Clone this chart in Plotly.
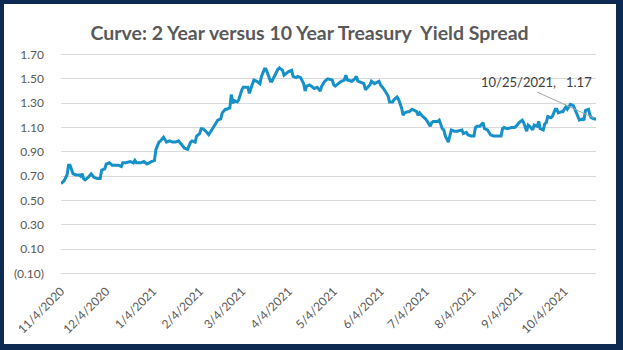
import pandas as pd
import plotly.graph_objects as go

# 2-year vs 10-year Treasury yield spread (percentage points)
dates = [
    "2020-11-04", "2020-11-06", "2020-11-08", "2020-11-09", "2020-11-10", "2020-11-12",
    "2020-11-14", "2020-11-16", "2020-11-17", "2020-11-18", "2020-11-19", "2020-11-20",
    "2020-11-22", "2020-11-24", "2020-11-26", "2020-11-28", "2020-11-30",
    "2020-12-01", "2020-12-03", "2020-12-04", "2020-12-06", "2020-12-08", "2020-12-09",
    "2020-12-12", "2020-12-14", "2020-12-15", "2020-12-17", "2020-12-19", "2020-12-20",
    "2020-12-22", "2020-12-23", "2020-12-24", "2020-12-27", "2020-12-29", "2020-12-31",
    "2021-01-03", "2021-01-05", "2021-01-06", "2021-01-08", "2021-01-09", "2021-01-11",
    "2021-01-13", "2021-01-15", "2021-01-17", "2021-01-19", "2021-01-21", "2021-01-23",
    "2021-01-25", "2021-01-27", "2021-01-29", "2021-01-30",
    "2021-02-01", "2021-02-02", "2021-02-04", "2021-02-05", "2021-02-06", "2021-02-08",
    "2021-02-10", "2021-02-12", "2021-02-14", "2021-02-16", "2021-02-18", "2021-02-19",
    "2021-02-21", "2021-02-22", "2021-02-24", "2021-02-25", "2021-02-26", "2021-02-27",
    "2021-03-01", "2021-03-02", "2021-03-04", "2021-03-05", "2021-03-08", "2021-03-09",
    "2021-03-10", "2021-03-12", "2021-03-14", "2021-03-16", "2021-03-17", "2021-03-19",
    "2021-03-20", "2021-03-21", "2021-03-23", "2021-03-24", "2021-03-26", "2021-03-28",
    "2021-03-29", "2021-03-31",
    "2021-04-01", "2021-04-03", "2021-04-04", "2021-04-06", "2021-04-07", "2021-04-09",
    "2021-04-10", "2021-04-12", "2021-04-14", "2021-04-15", "2021-04-16", "2021-04-18",
    "2021-04-20", "2021-04-21", "2021-04-23", "2021-04-25", "2021-04-26", "2021-04-28",
    "2021-04-30",
    "2021-05-03", "2021-05-04", "2021-05-05", "2021-05-07", "2021-05-09", "2021-05-11",
    "2021-05-12", "2021-05-13", "2021-05-15", "2021-05-16", "2021-05-18", "2021-05-19",
    "2021-05-20", "2021-05-23", "2021-05-24", "2021-05-25", "2021-05-27", "2021-05-28",
    "2021-05-29", "2021-05-31",
    "2021-06-03", "2021-06-04", "2021-06-06", "2021-06-07", "2021-06-09", "2021-06-10",
    "2021-06-12", "2021-06-13", "2021-06-15", "2021-06-16", "2021-06-18", "2021-06-19",
    "2021-06-20", "2021-06-22", "2021-06-23", "2021-06-25", "2021-06-27", "2021-06-28",
    "2021-06-29", "2021-06-30",
    "2021-07-02", "2021-07-04", "2021-07-05", "2021-07-07", "2021-07-08", "2021-07-09",
    "2021-07-12", "2021-07-13", "2021-07-15", "2021-07-16", "2021-07-17", "2021-07-19",
    "2021-07-20", "2021-07-21", "2021-07-23", "2021-07-25", "2021-07-28", "2021-07-29",
    "2021-07-31",
    "2021-08-01", "2021-08-03", "2021-08-05", "2021-08-06", "2021-08-07", "2021-08-09",
    "2021-08-11", "2021-08-12", "2021-08-14", "2021-08-16", "2021-08-18", "2021-08-21",
    "2021-08-23", "2021-08-24", "2021-08-25", "2021-08-27", "2021-08-30",
    "2021-09-01", "2021-09-02", "2021-09-04", "2021-09-06", "2021-09-07", "2021-09-09",
    "2021-09-10", "2021-09-11", "2021-09-13", "2021-09-14", "2021-09-16", "2021-09-17",
    "2021-09-18", "2021-09-20", "2021-09-21", "2021-09-22", "2021-09-23", "2021-09-25",
    "2021-09-26", "2021-09-28", "2021-09-29", "2021-09-30",
    "2021-10-02", "2021-10-03", "2021-10-05", "2021-10-06", "2021-10-07", "2021-10-08",
    "2021-10-10", "2021-10-11", "2021-10-13", "2021-10-14", "2021-10-16", "2021-10-17",
    "2021-10-18", "2021-10-20", "2021-10-21", "2021-10-22", "2021-10-24", "2021-10-25",
]

spread = [
    0.64, 0.66, 0.71, 0.79, 0.79, 0.72,
    0.71, 0.71, 0.70, 0.72, 0.68, 0.67,
    0.69, 0.72, 0.69, 0.68, 0.68,
    0.75, 0.76, 0.80, 0.81, 0.79, 0.79,
    0.79, 0.78, 0.81, 0.81, 0.82, 0.82,
    0.81, 0.83, 0.81, 0.81, 0.82, 0.80,
    0.82, 0.83, 0.92, 0.98, 0.99, 1.02,
    0.98, 0.99, 0.98, 0.98, 0.99, 0.96,
    0.93, 0.92, 0.98, 0.99,
    0.98, 1.03, 1.05, 1.09, 1.09, 1.07,
    1.04, 1.08, 1.12, 1.16, 1.17, 1.22,
    1.25, 1.25, 1.26, 1.37, 1.30, 1.32,
    1.31, 1.33, 1.41, 1.43, 1.43, 1.38,
    1.42, 1.49, 1.48, 1.46, 1.52, 1.58,
    1.58, 1.55, 1.48, 1.48, 1.53, 1.58,
    1.59, 1.57,
    1.53, 1.55, 1.56, 1.57, 1.52, 1.51,
    1.52, 1.51, 1.46, 1.40, 1.44, 1.45,
    1.43, 1.42, 1.43, 1.40, 1.44, 1.48,
    1.50,
    1.49, 1.45, 1.44, 1.46, 1.48, 1.49,
    1.53, 1.49, 1.48, 1.48, 1.50, 1.52,
    1.48, 1.46, 1.46, 1.41, 1.44, 1.45,
    1.48, 1.46,
    1.48, 1.45, 1.42, 1.40, 1.36, 1.31,
    1.31, 1.33, 1.35, 1.33, 1.26, 1.20,
    1.22, 1.23, 1.23, 1.25, 1.24, 1.23,
    1.20, 1.22,
    1.19, 1.17, 1.15, 1.11, 1.14, 1.15,
    1.15, 1.16, 1.09, 1.08, 1.03, 0.98,
    1.03, 1.08, 1.07, 1.07, 1.08, 1.05,
    1.06,
    1.04, 1.03, 1.03, 1.10, 1.11, 1.11,
    1.14, 1.09, 1.08, 1.04, 1.03, 1.03,
    1.03, 1.09, 1.10, 1.09, 1.10,
    1.10, 1.11, 1.14, 1.16, 1.14, 1.07,
    1.12, 1.11, 1.08, 1.12, 1.11, 1.15,
    1.09, 1.08, 1.13, 1.14, 1.19, 1.18,
    1.19, 1.25, 1.25, 1.22,
    1.23, 1.23, 1.27, 1.25, 1.27, 1.29,
    1.28, 1.25, 1.20, 1.16, 1.17, 1.16,
    1.24, 1.25, 1.20, 1.18, 1.17, 1.17,
]

x_tick_labels = [
    "11/4/2020", "12/4/2020", "1/4/2021", "2/4/2021", "3/4/2021", "4/4/2021",
    "5/4/2021", "6/4/2021", "7/4/2021", "8/4/2021", "9/4/2021", "10/4/2021",
]
y_ticks = [-0.10, 0.10, 0.30, 0.50, 0.70, 0.90, 1.10, 1.30, 1.50, 1.70]

title_text = "Curve: 2 Year versus 10 Year Treasury\u00a0 Yield Spread"

NAVY = "#0f2a52"
LINE_BLUE = "#1690c8"
GRAY_TEXT = "#595959"
GRID = "#d9d9d9"
FONT = "Lato, 'Open Sans', sans-serif"

x_dates = pd.to_datetime(dates)
tick_dates = pd.to_datetime(x_tick_labels, format="%m/%d/%Y")


def fmt_acct(v):
    # accounting style: negatives in parentheses
    return f"({abs(v):.2f})" if v < 0 else f"{v:.2f}"


fig = go.Figure()
fig.add_trace(go.Scatter(
    x=x_dates, y=spread, mode="lines",
    line=dict(color=LINE_BLUE, width=3),
    hoverinfo="x+y", showlegend=False,
))

# label for the latest observation
last_date, last_val = x_dates[-1], spread[-1]
label = f"{last_date.month}/{last_date.day}/{last_date.year},\u00a0\u00a0 {last_val:.2f}"
fig.add_annotation(
    x=last_date, y=last_val, text=label, showarrow=False,
    xshift=-60, yshift=37,
    font=dict(family=FONT, size=13, color="#404040"),
)
# leader line from the label down to the last point
fig.add_shape(
    type="line", xref="x", yref="y",
    xsizemode="pixel", ysizemode="pixel",
    xanchor=last_date, yanchor=last_val,
    x0=-2, y0=1, x1=-59, y1=27,
    line=dict(color="#a6a6a6", width=1),
)

# chart-area frame: navy border around a white panel
L, R, T, B = 61, 27, 53, 75
W, H = 623, 350
pw, ph = W - L - R, H - T - B
fig.add_shape(
    type="rect", xref="paper", yref="paper", layer="below",
    x0=(4 - L) / pw, x1=(616 - L) / pw,
    y0=-(344 - (H - B)) / ph, y1=1 + (T - 4) / ph,
    fillcolor="white", line=dict(width=0),
)

fig.update_layout(
    width=W, height=H,
    margin=dict(l=L, r=R, t=T, b=B),
    paper_bgcolor=NAVY, plot_bgcolor="rgba(0,0,0,0)",
    title=dict(
        text=title_text, x=0.497, xanchor="center",
        y=1 - 33 / H, yanchor="middle", yref="container",
        font=dict(family=FONT, size=19.5, color=GRAY_TEXT, weight="bold"),
    ),
    font=dict(family=FONT, color=GRAY_TEXT),
)
fig.update_xaxes(
    type="date", range=[x_dates[0], x_dates[-1]],
    tickvals=tick_dates, ticktext=x_tick_labels, tickangle=-45,
    tickfont=dict(size=12, color=GRAY_TEXT),
    showgrid=False, zeroline=False, showline=False, ticks="",
    ticklabelstandoff=6,
)
# small padding so the end gridlines (1.70 and -0.10) are drawn
fig.update_yaxes(
    range=[-0.112, 1.712],
    tickvals=y_ticks, ticktext=[fmt_acct(v) for v in y_ticks],
    tickfont=dict(size=12, color=GRAY_TEXT),
    showgrid=True, gridcolor=GRID, gridwidth=1,
    zeroline=False, showline=False, ticks="", ticklabelstandoff=16,
)

fig.write_html("out.html")
